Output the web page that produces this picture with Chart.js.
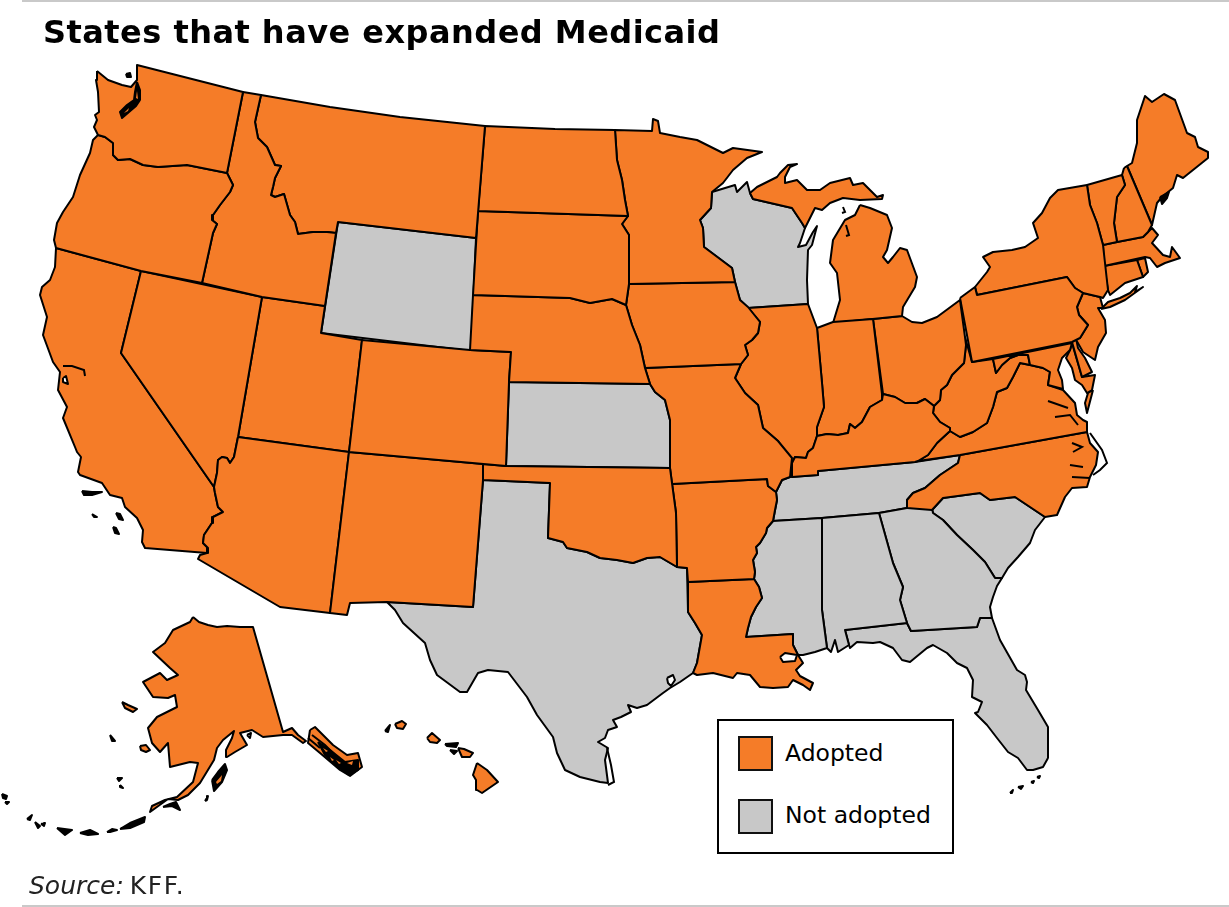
<!DOCTYPE html>
<html>
<head>
<meta charset="utf-8">
<title>States that have expanded Medicaid</title>
<script src="https://cdn.jsdelivr.net/npm/chart.js@4"></script>
<style>
html,body{margin:0;padding:0;background:#fff;}
#wrap{position:relative;width:1229px;height:907px;overflow:hidden;font-family:"DejaVu Sans",sans-serif;color:#000;}
canvas{position:absolute;left:0;top:0;}
#rule1,#rule2{position:absolute;left:22px;right:0;height:2px;background:#c9c9c9;}
#rule1{top:0;} #rule2{top:905px;}
#title{position:absolute;left:43px;top:13px;font-size:32px;font-weight:bold;white-space:nowrap;letter-spacing:.47px;}
#source{position:absolute;left:29px;top:871px;font-size:25px;color:#222;white-space:nowrap;}
#source b{font-weight:normal;letter-spacing:1.6px;margin-left:-2px;}
#legend{position:absolute;left:717px;top:719px;width:233px;height:131px;border:2px solid #000;background:#fff;}
.sw{position:absolute;left:19px;width:31px;height:31px;border:2px solid #111;}
.lb{position:absolute;left:66px;font-size:23.5px;white-space:nowrap;}
</style>
</head>
<body>
<div id="wrap">
<canvas id="map" width="1229" height="907"></canvas>
<div id="rule1"></div>
<div id="title"></div>
<div id="legend"></div>
<div id="source"><i>Source:</i> <b>KFF.</b></div>
<div id="rule2"></div>
</div>
<script>
const titleText = "States that have expanded Medicaid";
const categories = ["Adopted", "Not adopted"];
const categoryColors = ["#f57c28", "#c8c8c8"];

// outlines, x/y on a 1229 x 907 grid
// Mississippi river, north to south, shared by AR, LA and MS
const riverAR = [[777,500],[775,510],[773,521],[767,528],[766,533],[760,543],[756,547],[757,553],[753,560],[755,572],[754,579]];
const riverLA = [[754,579],[759,587],[762,598],[756,607],[751,617],[748,628],[746,637]];

const WA = [[97,71],[108,80],[122,85],[131,87],[137,80],[137,65],[243,92],[227,173],[187,165],[158,167],[143,165],[130,159],[118,160],[113,155],[113,143],[105,137],[98,135],[94,127],[97,120],[95,115],[99,112],[98,92],[96,80]];
const OR = [[98,135],[105,137],[113,143],[113,155],[118,160],[130,159],[143,165],[158,167],[187,165],[227,173],[233,185],[230,192],[220,205],[213,215],[212,220],[217,224],[213,233],[202,283],[141,271],[56,248],[54,240],[57,223],[63,212],[73,197],[80,175],[90,153],[93,140]];
const ID = [[243,92],[261,95],[255,122],[258,138],[267,147],[275,165],[281,166],[275,178],[273,187],[271,195],[275,197],[284,194],[290,215],[295,222],[298,234],[313,232],[327,232],[336,233],[325,306],[262,297],[202,283],[213,233],[217,224],[212,220],[213,215],[220,205],[230,192],[233,185],[227,173]];
const MT = [[261,95],[330,107],[400,117],[485,126],[476,238],[338,222],[336,233],[327,232],[313,232],[298,234],[295,222],[290,215],[284,194],[275,197],[271,195],[273,187],[275,178],[281,166],[275,165],[267,147],[258,138],[255,122]];
const WY = [[338,222],[476,238],[471,351],[321,333]];
const ND = [[485,126],[555,129],[615,130],[617,160],[622,180],[625,200],[628,216],[478,211]];
const SD = [[478,211],[628,216],[622,224],[629,235],[629,284],[626,305],[612,299],[590,303],[570,298],[473,295]];
const NE = [[473,295],[570,298],[590,303],[612,299],[626,305],[632,325],[640,345],[645,368],[650,384],[509,382],[511,352],[470,350]];
const CO = [[362,340],[470,350],[511,352],[509,382],[506,466],[349,452]];
const KS = [[509,382],[650,384],[655,392],[665,400],[670,420],[670,468],[506,466]];
const OK = [[483,464],[506,466],[670,468],[672,483],[676,513],[677,567],[660,557],[647,558],[633,563],[617,560],[600,558],[587,552],[567,548],[563,542],[548,538],[550,483],[483,480]];
const TX = [[483,480],[550,483],[548,538],[563,542],[567,548],[587,552],[600,558],[617,560],[633,563],[647,558],[660,557],[677,567],[687,568],[688,612],[695,623],[702,635],[697,663],[693,673],[680,682],[670,688],[663,693],[647,705],[637,708],[628,705],[631,712],[621,717],[613,720],[617,727],[608,730],[605,738],[598,742],[608,748],[605,760],[608,783],[600,782],[580,777],[565,770],[557,753],[553,737],[537,715],[527,697],[508,672],[488,670],[478,673],[467,692],[460,692],[437,675],[430,660],[425,643],[403,623],[395,610],[387,602],[473,607]];
const NM = [[349,452],[483,464],[483,480],[473,607],[387,602],[350,603],[347,615],[330,613]];
const AZ = [[238,437],[349,452],[330,613],[280,607],[198,559],[200,555],[207,553],[208,548],[203,543],[204,535],[212,523],[213,517],[223,512],[218,507],[215,493],[214,487],[217,473],[218,460],[222,457],[227,458],[230,463],[234,457]];
const NV = [[141,271],[262,297],[238,437],[234,457],[230,463],[227,458],[222,457],[218,460],[217,473],[214,487],[121,353]];
const UT = [[262,297],[325,306],[321,333],[362,340],[349,452],[238,437]];
const CA = [[56,248],[141,271],[121,353],[214,487],[215,493],[218,507],[223,512],[213,517],[212,523],[204,535],[203,543],[208,548],[207,553],[145,548],[142,542],[143,530],[137,518],[125,507],[122,498],[110,495],[102,483],[80,475],[78,472],[81,457],[77,452],[75,447],[63,418],[67,407],[58,390],[60,372],[53,362],[43,335],[47,317],[40,295],[42,287],[50,280],[55,267]];
const MN = [[615,130],[652,131],[653,119],[658,121],[660,133],[680,137],[697,140],[707,145],[723,153],[733,148],[762,152],[747,158],[733,170],[723,183],[712,192],[711,208],[700,220],[703,228],[704,247],[732,268],[735,282],[629,284],[629,235],[622,224],[628,216],[625,200],[622,180],[617,160]];
const IA = [[629,284],[735,282],[740,300],[748,307],[760,322],[758,333],[752,340],[745,345],[748,355],[741,364],[645,368],[640,345],[632,325],[626,305]];
const MO = [[645,368],[741,364],[735,378],[745,393],[758,405],[763,428],[778,441],[792,458],[790,477],[782,480],[776,492],[768,486],[767,479],[672,484],[670,468],[670,420],[665,400],[655,392],[650,384]];
const AR = [[672,484],[767,479],[768,486],[776,492],...riverAR,[688,582],[687,568],[677,567],[676,513]];
const LA = [[688,582],...riverLA,[793,634],[793,645],[798,655],[803,663],[796,670],[800,676],[813,683],[810,690],[803,685],[793,680],[788,687],[773,688],[760,687],[750,675],[737,673],[733,678],[713,673],[697,675],[693,673],[697,663],[702,635],[695,623],[688,612]];
const MS = [[773,521],[822,518],[822,610],[827,648],[815,652],[803,655],[798,655],[793,645],[793,634],...[...riverLA].reverse(),...[...riverAR].reverse().slice(1,8)];
const AL = [[822,518],[879,513],[893,563],[903,587],[900,600],[907,623],[845,630],[849,645],[838,652],[835,640],[831,652],[827,648],[822,610]];
const GA = [[879,513],[907,508],[932,508],[933,513],[943,520],[957,535],[973,550],[985,562],[995,578],[1002,578],[997,586],[993,597],[990,607],[992,618],[980,618],[977,627],[911,631],[907,623],[900,600],[903,587],[893,563]];
const SC = [[932,510],[943,498],[980,493],[990,500],[1015,497],[1045,517],[1035,530],[1030,543],[1018,557],[1008,568],[1002,578],[995,578],[985,562],[973,550],[957,535],[943,520],[933,513]];
const FL = [[845,630],[907,623],[911,631],[977,627],[980,618],[992,618],[1000,640],[1017,670],[1025,675],[1027,682],[1026,690],[1038,710],[1048,727],[1048,758],[1043,767],[1033,770],[1027,770],[1018,758],[1008,752],[997,738],[987,725],[975,713],[978,712],[982,702],[972,697],[973,680],[967,668],[957,663],[947,653],[933,645],[927,648],[910,662],[902,660],[893,648],[880,642],[873,643],[857,642],[850,648],[849,645]];
const TN = [[790,477],[818,475],[818,471],[915,462],[960,455],[958,463],[940,475],[925,488],[913,493],[907,500],[907,508],[879,513],[822,518],[773,521],[777,500],[776,492],[782,480]];
const NC = [[960,455],[1087,432],[1090,443],[1098,452],[1096,465],[1092,473],[1090,477],[1087,487],[1072,488],[1065,497],[1057,515],[1045,517],[1015,497],[990,500],[980,493],[943,498],[932,510],[907,508],[907,500],[913,493],[925,488],[940,475],[958,463]];
const VA = [[918,461],[928,455],[937,443],[950,431],[960,437],[973,432],[987,423],[993,407],[997,392],[1007,388],[1013,377],[1020,363],[1030,365],[1043,368],[1050,372],[1048,385],[1063,390],[1075,403],[1077,415],[1083,420],[1087,422],[1087,432],[960,455]];
const VA2 = [[1093,390],[1087,413],[1085,403],[1088,393]];
const KY = [[792,463],[792,477],[818,475],[818,471],[915,462],[918,461],[928,455],[937,443],[950,431],[950,428],[940,422],[933,413],[934,406],[925,399],[917,403],[905,403],[895,397],[883,394],[882,400],[870,407],[862,422],[855,428],[850,424],[848,433],[838,435],[827,434],[817,436],[813,448],[808,452],[806,458],[795,457]];
const IL = [[748,308],[808,304],[817,328],[822,383],[824,407],[817,427],[817,436],[813,448],[808,452],[806,458],[795,457],[792,463],[778,441],[763,428],[758,405],[745,393],[735,378],[741,364],[748,355],[745,345],[752,340],[758,333],[760,322]];
const WI = [[712,192],[735,185],[737,192],[747,182],[750,193],[753,199],[792,208],[802,223],[805,228],[800,243],[798,247],[806,245],[813,232],[817,226],[812,245],[808,250],[807,280],[808,304],[748,308],[740,300],[735,282],[732,268],[704,247],[703,228],[700,220],[711,208]];
const MI = [[750,193],[757,187],[777,177],[780,173],[788,165],[797,164],[790,167],[785,177],[785,183],[797,180],[807,190],[820,190],[830,183],[850,178],[853,185],[863,183],[877,197],[883,195],[882,199],[860,200],[843,198],[830,203],[822,210],[815,208],[805,228],[802,223],[792,208],[753,199]];
const MI2 = [[860,205],[870,208],[887,215],[892,228],[887,250],[883,257],[888,263],[893,257],[900,248],[907,250],[917,277],[915,287],[903,307],[902,316],[833,323],[840,300],[837,273],[830,263],[833,240],[845,220],[855,215]];
const IN = [[817,328],[833,322],[873,319],[882,394],[882,400],[870,407],[862,422],[855,428],[850,424],[848,433],[838,435],[827,434],[817,436],[817,427],[824,407],[822,383]];
const OH = [[873,319],[902,316],[912,322],[922,323],[937,317],[960,300],[965,337],[966,345],[964,363],[952,375],[947,385],[941,390],[940,400],[934,406],[925,399],[917,403],[905,403],[895,397],[883,394]];
const PA = [[960,298],[975,287],[977,295],[1067,277],[1075,288],[1083,293],[1077,307],[1079,315],[1088,325],[1080,338],[1072,342],[972,362]];
const NY = [[975,287],[987,272],[990,267],[983,257],[993,252],[1012,250],[1025,247],[1038,238],[1033,223],[1042,213],[1050,198],[1058,190],[1087,185],[1090,205],[1097,223],[1103,245],[1108,290],[1103,298],[1100,297],[1083,293],[1075,288],[1067,277],[977,295]];
const NY2 = [[1101,309],[1108,302],[1120,298],[1130,293],[1137,286],[1135,292],[1143,287],[1125,300],[1110,307]];
const VT = [[1087,185],[1122,175],[1125,185],[1117,197],[1114,223],[1117,242],[1103,245],[1097,223],[1090,205]];
const NH = [[1124,168],[1127,166],[1152,225],[1148,232],[1143,237],[1117,242],[1114,223],[1117,197],[1125,185],[1122,175]];
const ME = [[1127,166],[1132,163],[1137,143],[1137,120],[1145,96],[1152,102],[1164,94],[1175,100],[1187,133],[1195,137],[1198,147],[1208,152],[1208,158],[1193,170],[1183,178],[1177,175],[1173,188],[1162,197],[1157,203],[1152,225]];
const MA = [[1103,245],[1117,242],[1143,237],[1148,232],[1152,228],[1158,235],[1152,243],[1163,255],[1170,257],[1172,247],[1180,258],[1165,263],[1157,267],[1150,258],[1145,257],[1104,266]];
const CT = [[1104,266],[1137,260],[1143,277],[1125,283],[1110,295],[1108,290]];
const RI = [[1137,260],[1145,258],[1148,272],[1143,277]];
const NJ = [[1083,293],[1100,297],[1103,308],[1098,308],[1105,320],[1106,333],[1098,347],[1095,360],[1083,352],[1075,338],[1080,338],[1088,325],[1079,315],[1077,307]];
const DE = [[1072,342],[1076,338],[1078,348],[1085,358],[1092,372],[1082,377]];
const MD = [[993,359],[1072,343],[1070,350],[1062,358],[1058,370],[1062,380],[1063,389],[1048,385],[1050,372],[1043,368],[1030,365],[1028,355],[1018,355],[1010,358],[1002,365],[996,373]];
const MD2 = [[1072,343],[1082,377],[1095,375],[1092,390],[1087,393],[1082,385],[1075,380],[1072,368],[1066,358],[1070,350]];
const WV = [[965,337],[972,362],[993,359],[996,373],[1002,365],[1010,358],[1018,355],[1028,355],[1030,365],[1020,363],[1013,377],[1007,388],[997,392],[993,407],[987,423],[973,432],[960,437],[950,431],[950,428],[940,422],[933,413],[934,406],[940,400],[941,390],[947,385],[952,375],[964,363],[966,345]];
const AK = [[193,617],[199,622],[208,625],[217,627],[227,626],[240,627],[253,627],[283,732],[292,728],[298,735],[306,741],[303,743],[292,735],[283,735],[263,737],[252,730],[240,733],[247,745],[235,752],[227,757],[226,750],[232,738],[234,731],[223,740],[217,748],[214,760],[200,783],[188,795],[178,800],[168,799],[150,812],[152,806],[165,800],[177,797],[193,782],[198,763],[190,762],[170,767],[168,743],[160,752],[152,743],[148,728],[157,717],[177,707],[175,695],[168,698],[153,697],[143,682],[160,673],[167,680],[178,675],[170,668],[153,652],[165,643],[173,630],[190,622]];
const AK2 = [[310,730],[315,727],[333,745],[347,755],[358,753],[362,767],[350,776],[340,770],[320,753],[308,743]];
const AK3 = [[122,702],[128,705],[137,709],[133,712],[125,708]];
const AK4 = [[140,746],[146,745],[150,750],[146,752],[141,750]];
const HI1 = [[477,763],[487,770],[498,782],[482,793],[477,790],[476,780],[473,775]];
const HI2 = [[458,748],[464,749],[473,753],[470,757],[462,757]];
const HI3 = [[427,738],[432,733],[440,740],[437,743],[430,742]];
const HI4 = [[395,724],[402,721],[406,724],[403,729],[397,728]];

const adoptedStates = [WA,OR,ID,MT,ND,SD,NE,CO,OK,NM,AZ,NV,UT,CA,MN,IA,MO,AR,LA,KY,IL,IN,MI,MI2,OH,PA,NY,NY2,VT,NH,ME,MA,CT,RI,NJ,DE,MD,MD2,WV,VA,VA2,NC,AK,AK2,AK3,AK4,HI1,HI2,HI3,HI4];
const notAdoptedStates = [WY,KS,TX,MS,AL,GA,SC,FL,TN,WI];

// water cut out of the land
const waters = [
  [[780,657],[785,653],[797,655],[795,661],[783,662]],
  [[63,378],[66,376],[68,384],[63,382]],
  [[247,735],[251,733],[250,738]],
  [[667,678],[673,675],[675,680],[671,686],[668,683]]
];
// orange left showing inside the dark island groups
const chips = [
  [[216,782],[222,775],[221,781],[217,784]],
  [[124,113],[129,108],[128,111]],[[137,91],[138,99],[136,98]],
  [[323,748],[328,751],[326,752]],[[336,760],[341,763],[339,764]],[[347,763],[353,761],[352,765]],[[330,757],[334,760],[332,761]]
];
// specks too small to show any fill
const specks = [
  [[82,491],[92,492],[102,492],[92,495],[84,495]],[[92,514],[97,517],[94,517]],[[116,513],[120,514],[123,520],[119,519]],[[113,527],[116,528],[119,534],[115,533]],
  [[126,74],[130,73],[131,77],[127,77]],[[110,735],[115,741],[112,741]],[[117,778],[122,778],[119,781]],[[120,785],[123,788],[120,787]],
  [[137,82],[140,90],[140,100],[136,106],[129,112],[122,118],[120,112],[127,105],[134,100],[135,92]],
  [[1160,197],[1169,192],[1167,198],[1162,204]],
  [[212,780],[218,772],[225,764],[227,770],[222,782],[214,791]],
  [[318,742],[330,750],[345,762],[358,760],[358,770],[349,775],[338,767],[325,755]],
  [[163,807],[170,804],[176,802],[180,810],[172,806]],
  [[120,829],[130,823],[145,817],[144,822],[130,828]],[[80,833],[90,830],[98,834],[88,835]],[[57,828],[72,830],[65,835]],[[107,832],[112,829],[117,830],[110,832]],
  [[35,822],[40,826],[38,828]],[[41,824],[45,823],[44,826]],[[27,819],[32,815],[30,820]],[[2,794],[7,796],[6,799],[3,798]],[[5,802],[9,802],[7,804]],[[205,801],[208,796],[207,800]],
  [[385,731],[390,725],[388,732]],[[445,744],[458,743],[456,747],[447,746]],[[450,750],[457,751],[454,754]],
  [[1010,793],[1013,790],[1012,793]],[[1018,787],[1023,786],[1021,789]],[[1031,782],[1034,781],[1033,783]],[[1037,777],[1040,776],[1039,778]]
];
// thin inlets and barrier islands drawn as lines
const inlets = [
  [[63,366],[72,366],[84,370],[85,376]],
  [[1090,433],[1102,450],[1107,463],[1100,470],[1093,475]],
  [[1072,443],[1082,447],[1073,452]],[[1070,465],[1083,467]],[[1072,477],[1090,478]],
  [[1055,417],[1070,415],[1078,425]],[[1048,401],[1068,408]],
  [[843,207],[845,212],[842,213]],[[846,225],[849,235],[846,236]],
  [[607,748],[611,765],[614,782],[608,785]],
  [[312,735],[325,745],[340,760]],[[308,738],[320,748]]
];

function toPoints(outline){
  return [...outline, outline[0]].map(([x,y]) => ({x, y}));
}

function shape(outline, color, label){
  return {label, data: toPoints(outline), showLine: true, fill: "shape", backgroundColor: color, borderColor: "#000", borderWidth: 2, borderJoinStyle: "round", pointRadius: 0, tension: 0};
}

const datasets = [];
inlets.forEach(l => datasets.push({label: "inlet", data: l.map(([x,y]) => ({x, y})), showLine: true, fill: false, borderColor: "#000", borderWidth: 2, pointRadius: 0}));
waters.forEach(w => datasets.push(shape(w, "#fff", "water")));
chips.forEach(c => datasets.push({...shape(c, categoryColors[0], "island"), borderWidth: 0}));
specks.forEach(s => datasets.push(shape(s, "#000", "island")));
adoptedStates.forEach(s => datasets.push(shape(s, categoryColors[0], categories[0])));
notAdoptedStates.forEach(s => datasets.push(shape(s, categoryColors[1], categories[1])));

new Chart(document.getElementById("map"), {
  type: "scatter",
  data: {datasets},
  options: {
    responsive: false,
    animation: false,
    layout: {padding: 0},
    scales: {
      x: {type: "linear", min: 0, max: 1229, display: false},
      y: {type: "linear", min: 0, max: 907, reverse: true, display: false}
    },
    plugins: {legend: {display: false}, tooltip: {enabled: false}, title: {display: false}}
  }
});

document.getElementById("title").textContent = titleText;
const legendBox = document.getElementById("legend");
categories.forEach((c, i) => {
  const top = 15 + i * 63;
  legendBox.innerHTML += `<div class="sw" style="top:${top}px;background:${categoryColors[i]}"></div><div class="lb" style="top:${top + 3 - i}px">${c}</div>`;
});
</script>
</body>
</html>
